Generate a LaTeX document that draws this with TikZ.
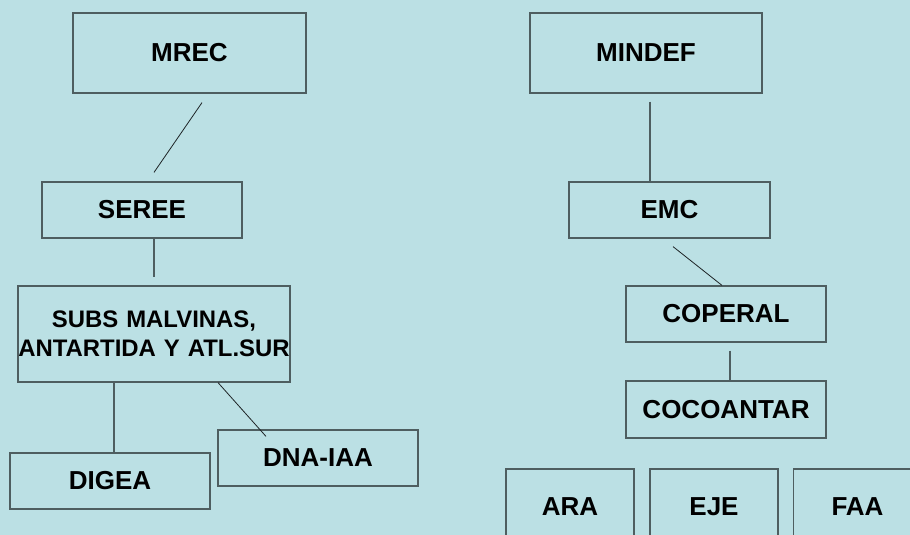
\documentclass[tikz,border=0pt]{standalone}
\usepackage{fontspec}
\setmainfont{Liberation Sans}
\definecolor{bgc}{RGB}{187,224,228}
\definecolor{edge}{RGB}{78,94,96}
\definecolor{conn}{RGB}{30,36,38}
\begin{document}
\begin{tikzpicture}[x=1pt,y=-1pt,
  orgbox/.style={draw=edge,line width=1.2pt,rectangle,inner sep=0pt,
    font=\fontsize{26}{30}\selectfont\bfseries,text=black},
  diag/.style={draw=conn,line width=0.8pt},
  vert/.style={draw=edge,line width=1.1pt}]
\fill[bgc] (0,0) rectangle (910,535);
\useasboundingbox (0,0) rectangle (910,535);
\clip (0,0) rectangle (910,535);
% left tree
\node[orgbox,minimum width=233pt,minimum height=80pt] (mrec) at (189.5,53) {MREC};
\node[orgbox,minimum width=200pt,minimum height=56pt] (seree) at (142,210) {SEREE};
\node[orgbox,minimum width=272pt,minimum height=96pt,text width=272pt,align=center,
  font=\fontsize{23.9}{29}\selectfont\bfseries] (subs) at (154,334)
  {SUBS MALVINAS,\\ANTARTIDA Y ATL.SUR};
\node[orgbox,minimum width=200pt,minimum height=56pt] (digea) at (110,481) {DIGEA};
\node[orgbox,minimum width=200pt,minimum height=56pt] (dna) at (318,458) {DNA-IAA};
% right tree
\node[orgbox,minimum width=232pt,minimum height=80pt] (mindef) at (646,53) {MINDEF};
\node[orgbox,minimum width=201pt,minimum height=56pt] (emc) at (669.5,210) {EMC};
\node[orgbox,minimum width=200pt,minimum height=56pt] (coperal) at (726,314) {COPERAL};
\node[orgbox,minimum width=200pt,minimum height=57pt] (cocoantar) at (726,409.5) {COCOANTAR};
\node[orgbox,minimum width=128pt,minimum height=76pt] (ara) at (570,507) {ARA};
\node[orgbox,minimum width=128pt,minimum height=76pt] (eje) at (714,507) {EJE};
\node[orgbox,minimum width=128pt,minimum height=76pt] (faa) at (857.5,507) {FAA};
% connectors
\draw[diag] ([xshift=12.5pt,yshift=-9pt]mrec.south) -- ([xshift=12pt,yshift=9pt]seree.north);
\draw[vert] ([xshift=12pt]seree.south) -- ([yshift=8pt]subs.north);
\draw[vert] ([xshift=-40pt]subs.south) -- ([xshift=4pt]digea.north);
\draw[diag] ([xshift=64pt]subs.south) -- ([xshift=-52pt,yshift=-7pt]dna.north);
\draw[vert] ([xshift=4pt,yshift=-8pt]mindef.south) -- ([xshift=-19.5pt]emc.north);
\draw[diag] ([xshift=3.5pt,yshift=-8pt]emc.south) -- ([xshift=-4pt]coperal.north);
\draw[vert] ([xshift=4pt,yshift=-8pt]coperal.south) -- ([xshift=4pt]cocoantar.north);
\end{tikzpicture}
\end{document}
